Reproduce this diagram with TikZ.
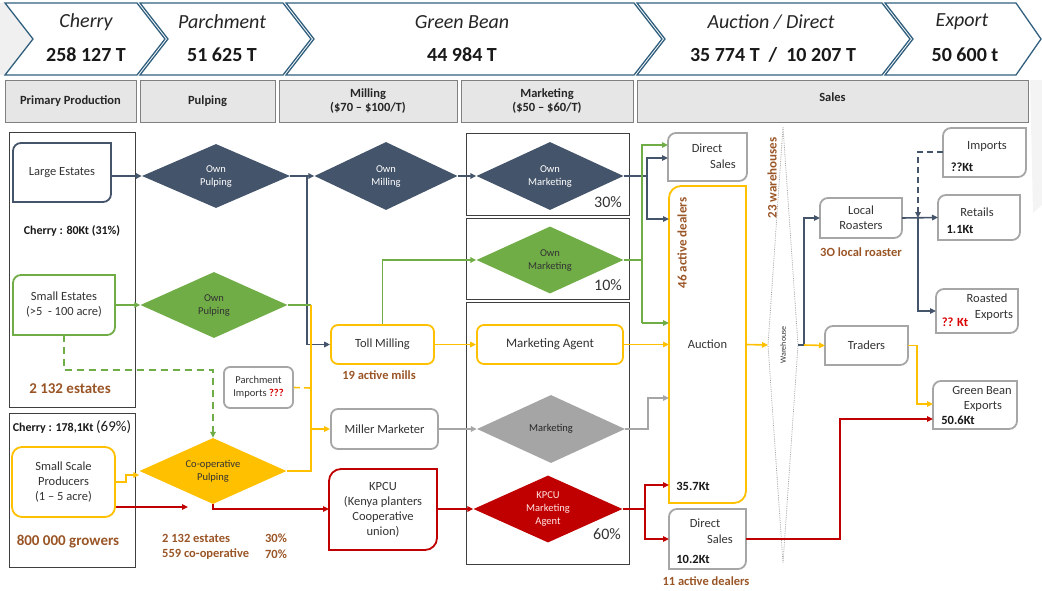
\documentclass[tikz,border=0pt]{standalone}
\usepackage{fontspec}
\setmainfont{Carlito}
\usetikzlibrary{shapes.geometric,arrows.meta,calc}

\definecolor{slate}{HTML}{44546A}
\definecolor{leaf}{HTML}{70AD47}
\definecolor{amber}{HTML}{FFC000}
\definecolor{crimson}{HTML}{C00000}
\definecolor{greybox}{HTML}{A6A6A6}
\definecolor{greydia}{HTML}{A5A5A5}
\definecolor{rust}{HTML}{9A5526}
\definecolor{chevline}{HTML}{31607F}
\definecolor{hdrfill}{HTML}{E7E6E6}
\definecolor{hdrline}{HTML}{808080}
\definecolor{framec}{HTML}{3F3F3F}
\definecolor{ink}{HTML}{333333}

% outline with rounded top-left and bottom-right corners around a node
\newcommand\dgframe[3]{%
  \draw[#1] (#2.south west) -- ([yshift=-#3]#2.north west)
    arc[start angle=180, end angle=90, radius=#3]
    -- (#2.north east) -- ([yshift=#3]#2.south east)
    arc[start angle=0, end angle=-90, radius=#3] -- cycle;}

\tikzset{
  chev/.style={draw=chevline, line width=1.3pt, fill=white, line join=miter},
  chevname/.style={font=\fontsize{20}{24}\selectfont\itshape, text=black!85, inner sep=0},
  chevnum/.style={font=\fontsize{20}{24}\selectfont\bfseries, text=black!90, inner sep=0},
  hdr/.style={draw=hdrline, fill=hdrfill, line width=0.9pt, align=center, inner sep=0,
    font=\fontsize{12.5}{14.5}\selectfont\bfseries, text=black!85},
  colframe/.style={draw=framec, line width=0.9pt, inner sep=0},
  box/.style={draw, rounded corners=7pt, line width=1.8pt, fill=white, align=center,
    inner sep=0, text=ink, font=\fontsize{12.5}{15}\selectfont},
  shell/.style={inner sep=0, outer sep=0, align=center, text=ink,
    font=\fontsize{12.5}{15}\selectfont},
  dia/.style={diamond, aspect=2, inner sep=0, align=center,
    font=\fontsize{10.5}{13}\selectfont, text=white},
  wire/.style={line width=1.6pt},
  flow/.style={wire, -{Triangle[length=6pt,width=5.5pt]}},
  rusty/.style={text=rust, font=\fontsize{12.5}{15}\selectfont\bfseries, inner sep=0},
  bigrust/.style={text=rust, font=\fontsize{15}{18}\selectfont\bfseries, inner sep=0},
  figure/.style={font=\fontsize{12.5}{15}\selectfont\bfseries, text=black!90, inner sep=0},
  plain/.style={font=\fontsize{12.5}{15}\selectfont, text=ink, inner sep=0},
  pct/.style={font=\fontsize{16}{19}\selectfont, text=ink, inner sep=0},
}

\begin{document}
\begin{tikzpicture}[x=1pt,y=-1pt]
\useasboundingbox (0,0) rectangle (1042,591);

% faint backdrop wedges
\fill[gray!12] (0,3) -- (5,3) -- (33,39) -- (12,75) -- (0,75) -- cycle;
\fill[gray!9] (1030,80) -- (1042,80) -- (1042,205) -- (1033,213) -- cycle;

% ---------------- stage banner ----------------
\draw[chev] (5,3) -- (137,3) -- (165,39) -- (137,75) -- (5,75) -- (33,39) -- cycle;
\draw[chev] (140,3) -- (283,3) -- (311,39) -- (283,75) -- (140,75) -- (168,39) -- cycle;
\draw[chev] (286,3) -- (634,3) -- (662,39) -- (634,75) -- (286,75) -- (314,39) -- cycle;
\draw[chev] (637,3) -- (882,3) -- (910,39) -- (882,75) -- (637,75) -- (665,39) -- cycle;
\draw[chev] (885,3) -- (1016,3) -- (1041,39) -- (1016,75) -- (885,75) -- (913,39) -- cycle;

\node[chevname] (sCherry) at (86,22) {Cherry};
\node[chevnum]  (nCherry) at (86,55) {258 127 T};
\node[chevname] (sParch) at (222,22) {Parchment};
\node[chevnum]  (nParch) at (222,55) {51 625 T};
\node[chevname] (sGreen) at (462,22) {Green Bean};
\node[chevnum]  (nGreen) at (462,55) {44 984 T};
\node[chevname] (sAuct) at (771,22) {Auction / Direct};
\node[chevnum]  (nAuct) at (773,55) {35 774 T\ \ /\ \ 10 207 T};
\node[chevname] (sExp) at (962,22) {Export};
\node[chevnum]  (nExp) at (965,55) {50 600 t};

% ---------------- column headers ----------------
\node[hdr, minimum width=131pt, minimum height=42pt] (hPP) at (70.5,101) {Primary Production};
\node[hdr, minimum width=135pt, minimum height=42pt] (hPu) at (207.5,101) {Pulping};
\node[hdr, minimum width=178pt, minimum height=42pt] (hMi) at (368,101) {Milling\\(\$70 – \$100/T)};
\node[hdr, minimum width=172pt, minimum height=42pt] (hMk) at (547,101) {Marketing\\(\$50 – \$60/T)};
\node[hdr, minimum width=391pt, minimum height=42pt, text depth=8pt] (hSa) at (832.5,101) {Sales};

% ---------------- group frames ----------------
\node[colframe, minimum width=126pt, minimum height=275pt] (frEst) at (72,269.5) {};
\node[colframe, minimum width=126pt, minimum height=154pt] (frSmall) at (72,490) {};
\node[colframe, minimum width=163pt, minimum height=82pt] (frM1) at (547.5,174) {};
\node[colframe, minimum width=163pt, minimum height=81pt] (frM2) at (547.5,258.5) {};
\node[colframe, minimum width=163pt, minimum height=262pt] (frM3) at (547.5,433) {};

% ---------------- producers ----------------
\node[shell, minimum width=98pt, minimum height=59pt] (LE) at (62,172.5) {Large Estates};
\dgframe{draw=slate, line width=1.8pt}{LE}{8pt}
\node[shell, minimum width=102pt, minimum height=60pt] (SE) at (64,305) {Small Estates\\(>5\ \ - 100 acre)};
\dgframe{draw=leaf, line width=1.8pt}{SE}{8pt}
\node[box, draw=amber, rounded corners=10pt, minimum width=103pt, minimum height=70pt] (SSP) at (63.5,482)
  {Small Scale\\Producers\\(1 – 5 acre)};

\node[font=\fontsize{12}{14}\selectfont\bfseries, text=black!90, inner sep=0] (ch80) at (72,231) {Cherry : 80Kt (31\%)};
\node[bigrust] (est) at (70,389) {2 132 estates};
\node[font=\fontsize{12}{14}\selectfont\bfseries, text=black!90, inner sep=0] (ch178) at (72,427)
  {Cherry : 178,1Kt {\fontsize{15}{18}\selectfont\mdseries (69\%)}};
\node[bigrust] (grow) at (68,542) {800 000 growers};

% ---------------- pulping ----------------
\node[dia, fill=slate, minimum width=148pt, minimum height=64pt] (OPn) at (216,176) {Own\\Pulping};
\node[dia, fill=leaf, text=black!80, minimum width=147pt, minimum height=66pt] (OPg) at (214,305) {Own\\Pulping};
\node[dia, fill=amber, text=black!80, minimum width=147pt, minimum height=66pt] (CP) at (213,471) {Co-operative\\Pulping};
\node[box, draw=greybox, rounded corners=6pt, font=\fontsize{10.5}{13}\selectfont, minimum width=69pt, minimum height=41pt] (PI) at (258.5,387.5)
  {Parchment\\Imports {\color{red!85!black}\bfseries ???}};

\node[rusty, anchor=west] (pe1) at (162,538) {2 132 estates};
\node[rusty] (pe2) at (276,538) {30\%};
\node[rusty, anchor=west] (pe3) at (162,554) {559 co-operative};
\node[rusty] (pe4) at (276,554) {70\%};

% ---------------- milling ----------------
\node[dia, fill=slate, minimum width=143pt, minimum height=68pt] (OMi) at (386,176) {Own\\Milling};
\node[box, draw=amber, minimum width=103pt, minimum height=39pt] (TM) at (382.5,344.5) {Toll Milling};
\node[rusty] (mills) at (379,375) {19 active mills};
\node[box, draw=greybox, minimum width=107pt, minimum height=40pt] (MM) at (384.5,429) {Miller Marketer};
\node[shell, minimum width=108pt, minimum height=81pt] (KPCU) at (383,509.5)
  {KPCU\\(Kenya planters\\Cooperative\\union)};
\dgframe{draw=crimson, line width=1.8pt}{KPCU}{12pt}

% ---------------- marketing ----------------
\node[dia, fill=slate, minimum width=147pt, minimum height=68pt] (OMk1) at (550,176) {Own\\Marketing};
\node[pct] (p30) at (608,202) {30\%};
\node[dia, fill=leaf, text=black!80, minimum width=147pt, minimum height=67pt] (OMk2) at (550,260) {Own\\Marketing};
\node[pct] (p10) at (608,285) {10\%};
\node[box, draw=amber, font=\fontsize{13}{15}\selectfont, minimum width=146pt, minimum height=39pt] (MA) at (550,344.5) {Marketing Agent};
\node[dia, fill=greydia, text=black!85, minimum width=148pt, minimum height=68pt] (MK) at (551,429) {Marketing};
\node[dia, fill=crimson, text=white!90!red, minimum width=149pt, minimum height=67pt] (KMA) at (548,509) {KPCU\\Marketing\\Agent};
\node[pct] (p60) at (607,534) {60\%};

% ---------------- sales ----------------
\node[shell, minimum width=79pt, minimum height=48pt] (DS1) at (707.5,157) {};
\dgframe{draw=greybox, line width=1.8pt}{DS1}{8pt}
\node[plain] (ds1a) at (707,148) {Direct};
\node[plain] (ds1b) at (723,164) {Sales};

\node[shell, minimum width=77pt, minimum height=317pt] (AU) at (707.5,344.5) {Auction};
\dgframe{draw=amber, line width=1.8pt}{AU}{12pt}
\node[rusty, font=\fontsize{13}{15}\selectfont\bfseries, rotate=90] (dealers) at (682,243) {46 active dealers};
\node[figure] (au35) at (693,486) {35.7Kt};

\node[shell, minimum width=77pt, minimum height=60pt] (DS2) at (707.5,539) {};
\dgframe{draw=greybox, line width=1.8pt}{DS2}{8pt}
\node[plain] (ds2a) at (705,523) {Direct};
\node[plain] (ds2b) at (720,539) {Sales};
\node[figure] (ds2c) at (693,559) {10.2Kt};
\node[rusty] (dealers11) at (706,581) {11 active dealers};

% warehouse
\coordinate (whT) at (783,127);
\coordinate (whL) at (768,345);
\coordinate (whB) at (783,563);
\coordinate (whR) at (798,345);
\draw[gray!70, densely dotted, line width=0.8pt] (whT) -- (whL) -- (whB) -- (whR) -- cycle;
\node[font=\fontsize{8}{10}\selectfont, text=ink, rotate=90, inner sep=0] (wh) at (783,345) {Warehouse};
\node[rusty, font=\fontsize{13}{15}\selectfont\bfseries, rotate=90] (wh23) at (772,178) {23 warehouses};

\node[shell, minimum width=82pt, minimum height=40pt] (LR) at (861,218) {Local\\Roasters};
\dgframe{draw=greybox, line width=1.8pt}{LR}{8pt}
\node[rusty] (roast30) at (861,252) {3O local roaster};
\node[shell, minimum width=83pt, minimum height=39pt] (TR) at (866.5,345.5) {Traders};
\dgframe{draw=greybox, line width=1.8pt}{TR}{8pt}

\node[shell, minimum width=83pt, minimum height=49pt] (IM) at (984.5,152.5) {};
\dgframe{draw=greybox, line width=1.8pt}{IM}{8pt}
\node[plain] (ima) at (987,146) {Imports};
\node[figure] (imb) at (962,167) {??Kt};

\node[shell, minimum width=82pt, minimum height=45pt] (RT) at (979,217.5) {};
\dgframe{draw=greybox, line width=1.8pt}{RT}{8pt}
\node[plain] (rta) at (977,212) {Retails};
\node[figure] (rtb) at (960,229) {1.1Kt};

\node[shell, minimum width=82pt, minimum height=44pt] (RE) at (977,311) {};
\dgframe{draw=greybox, line width=1.8pt}{RE}{8pt}
\node[plain] (rea) at (987,298) {Roasted};
\node[plain] (reb) at (994,315) {Exports};
\node[figure, text=red!85!black] (rec) at (955,322) {?? Kt};

\node[shell, minimum width=84pt, minimum height=48pt] (GE) at (975,405) {};
\dgframe{draw=greybox, line width=1.8pt}{GE}{8pt}
\node[plain] (gea) at (982,390) {Green Bean};
\node[plain] (geb) at (983,406) {Exports};
\node[figure] (gec) at (958,420) {50.6Kt};

% ---------------- connector bends ----------------
\coordinate (nv1) at (307,176);
\coordinate (nv2) at (647,176);
\coordinate (nv3) at (647,158);
\coordinate (nv4) at (647,219);
\coordinate (tr) at (311,305);
\coordinate (tb) at (311,471);
\coordinate (ymm) at (311,429);
\coordinate (ypi) at (311,388);
\coordinate (g2) at (642,260);
\coordinate (g3) at (642,145);
\coordinate (g4) at (642,323);
\coordinate (d1) at (64,370);
\coordinate (d2) at (213,370);
\coordinate (y1) at (126,482);
\coordinate (y2) at (126,475);
\coordinate (wr) at (804,345);
\coordinate (t2) at (917,404);
\coordinate (r1) at (918,218);
\coordinate (i1) at (918,152);
\coordinate (rs) at (188,507);
\coordinate (rk) at (213,509);
\coordinate (k1) at (645,509);
\coordinate (k2) at (645,485);
\coordinate (k3) at (645,539);
\coordinate (k4) at (840,539);
\coordinate (k5) at (840,419);
\coordinate (m1) at (648,429);
\coordinate (m2) at (648,398);

% ---------------- large estates route ----------------
\draw[flow, slate] (LE.east |- OPn.west) -- (OPn.west);
\draw[flow, slate] (OPn.east) -- (OMi.west);
\draw[flow, slate] (nv1) |- (TM.west);
\draw[flow, slate] (OMi.east) -- (OMk1.west);
\draw[wire, slate] (OMk1.east) -- (nv2);
\draw[flow, slate] (nv4) -- (nv3) -- (DS1.west |- nv3);
\draw[flow, slate] (nv2) -- (nv4) -- (AU.west |- nv4);

% ---------------- small estates route ----------------
\draw[flow, leaf] (SE.east) -- (OPg.west);
\draw[wire, leaf] (OPg.east) -- (tr);
\draw[flow, leaf, dashed, dash pattern=on 7pt off 5pt] (SE.south) -- (d1) -- (d2) -- (CP.north);
\draw[flow, leaf] (TM.north) |- (OMk2.west);
\draw[wire, leaf] (OMk2.east) -- (g2);
\draw[flow, leaf] (g4) -- (g3) -- (DS1.west |- g3);
\draw[flow, leaf] (g4) -- (AU.west |- g4);

% ---------------- cooperative route ----------------
\draw[flow, amber] (SSP.east |- y1) -- (y1) -- (y2) -- (CP.west |- y2);
\draw[wire, amber] (CP.east) -- (tb) -- (tr);
\draw[flow, amber] (ymm) -- (MM.west);
\draw[wire, amber, dashed, dash pattern=on 6pt off 4pt] (PI.east) -- (ypi);
\draw[flow, amber] (TM.east) -- (MA.west);
\draw[flow, amber] (MA.east) -- (AU.west);
\draw[flow, amber] (AU.east) -- (whL);
\draw[flow, slate] (whR) -- (wr) |- (LR.west);
\draw[flow, amber] (wr) -- (TR.west);
\draw[flow, amber] (TR.east) -| (t2) -- (GE.west |- t2);

% roasters
\draw[flow, slate] (LR.east) -- (RT.west);
\draw[flow, slate] (r1) |- (RE.west);
\draw[flow, slate, dashed, dash pattern=on 6pt off 4pt] (IM.west |- i1) -- (i1) -- (r1);

% ---------------- KPCU route ----------------
\draw[flow, crimson] (SSP.east |- rs) -- (rs);
\draw[flow, crimson] (CP.south) -- (rk) -- (KPCU.west |- rk);
\draw[flow, crimson] (KPCU.east |- KMA.west) -- (KMA.west);
\draw[wire, crimson] (KMA.east) -- (k1);
\draw[flow, crimson] (k1) -- (k2) -- (AU.west |- k2);
\draw[flow, crimson] (k1) -- (k3) -- (DS2.west |- k3);
\draw[flow, crimson] (DS2.east |- k4) -- (k4) -- (k5) -- (GE.west |- k5);

% ---------------- miller marketer route ----------------
\draw[flow, greybox] (MM.east) -- (MK.west);
\draw[flow, greybox] (MK.east) -- (m1) -- (m2) -- (AU.west |- m2);

\end{tikzpicture}
\end{document}
